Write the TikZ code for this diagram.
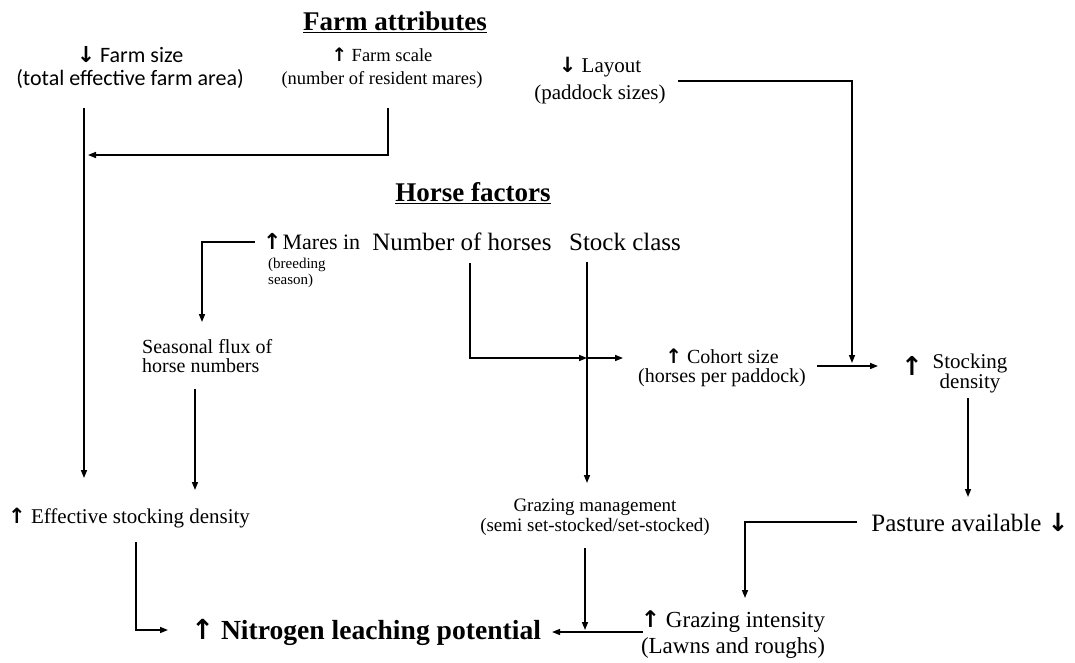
\documentclass[tikz,border=0pt]{standalone}
\usepackage{fontspec}
\setmainfont{Liberation Serif}
\newfontfamily\calfont{Carlito}
\newfontfamily\arrfont{DejaVu Sans}
\usetikzlibrary{arrows.meta}

\newcommand{\up}{{\arrfont\bfseries ↑}}
\newcommand{\dn}{{\arrfont\bfseries ↓}}
\newcommand{\fsz}[2]{\fontsize{#1}{#2}\selectfont}

\tikzset{
  txt/.style={inner sep=0pt, align=center},
  head/.style={inner sep=0pt, font=\fsz{27}{30}\bfseries},
  link/.style={line width=1.5pt, -{Triangle[length=8pt,width=6pt]}},
}

\begin{document}
\begin{tikzpicture}[x=1pt,y=-1pt]
        \useasboundingbox (0,0) rectangle (1075,663);

        % farm attributes
        \node [head] (farmattr) at (395,22) {\underline{Farm attributes}};
        \node [txt, font=\calfont\fsz{22}{23}] (fsize) at (130,68) {\dn\ Farm size\\(total effective farm area)};
        \node [txt, font=\fsz{18.5}{23}] (fscale) at (382,68) {\up\ Farm scale\\(number of resident mares)};
        \node [txt, font=\fsz{21}{27}] (layout) at (600,81) {\dn\ Layout\\(paddock sizes)};

        % horse factors
        \node [head] (horsefac) at (473,193) {\underline{Horse factors}};
        \node [txt, anchor=west, font=\fsz{22}{22}] (mares) at (263,242) {\up\kern1pt Mares in};
        \node [txt, anchor=west, align=left, font=\fsz{15}{16}] (breed) at (268,273) {(breeding\\season)};
        \node [txt, font=\fsz{25}{25}] (nhorses) at (462,242) {Number of horses};
        \node [txt, font=\fsz{25}{25}] (stock) at (625,242) {Stock class};

        \node [txt, anchor=west, align=left, font=\fsz{20}{19}] (flux) at (142,356) {Seasonal flux of\\horse numbers};
        \node [txt, font=\fsz{20}{19.5}] (cohort) at (722,368) {\up\ Cohort size\\(horses per paddock)};
        \node [txt, font=\fsz{26}{26}] (stockup) at (912,366) {\up};
        \node [txt, font=\fsz{21}{20}] (stocking) at (970,373) {Stocking\\density};

        \node [txt, anchor=west, font=\fsz{21}{21}] (esd) at (8,518) {\up\ Effective stocking density};
        \node [txt, font=\fsz{19}{20}] (grazmgmt) at (595,517) {Grazing management\\(semi set-stocked/set-stocked)};
        \node [txt, font=\fsz{25}{25}] (pasture) at (970,523) {Pasture available \dn};
        \node [txt, font=\fsz{23}{26}] (grazint) at (733,635) {\up\ Grazing intensity\\(Lawns and roughs)};
        \node [txt, font=\fsz{27.6}{28}\bfseries] (nitro) at (366,632) {\up\ Nitrogen leaching potential};

        % links
        \draw [link] ([shift={(-46,40)}]fsize.center) -- ([shift={(76,-40)}]esd.west);
        \draw [link] ([shift={(6,40)}]fscale.center) |- ([shift={(-42,87)}]fsize.center);
        \draw [link] ([shift={(78,0)}]layout.center) -| ([shift={(130,-5)}]cohort.center);
        \draw [link] ([shift={(-8,0)}]mares.west) -| ([shift={(60,-34)}]flux.west);
        \draw [link] ([shift={(8,21)}]nhorses.center) |- ([shift={(-38,116)}]stock.center);
        \draw [link] ([shift={(-38,116)}]stock.center) -- ([shift={(-99,-10)}]cohort.center);
        \draw [link] ([shift={(-38,20)}]stock.center) -- ([shift={(-8,-34)}]grazmgmt.center);
        \draw [link] ([shift={(95,-2)}]cohort.center) -- ([shift={(-34,0)}]stockup.center);
        \draw [link] ([shift={(-2,25)}]stocking.center) -- ([shift={(-2,-26)}]pasture.center);
        \draw [link] ([shift={(53,33)}]flux.west) -- ([shift={(187,-28)}]esd.west);
        \draw [link] ([shift={(128,24)}]esd.west) |- ([shift={(-198,-2)}]nitro.center);
        \draw [link] ([shift={(-113,-1)}]pasture.center) -| ([shift={(12,-37)}]grazint.center);
        \draw [link] ([shift={(-10,31)}]grazmgmt.center) -- ([shift={(-10,113)}]grazmgmt.center);
        \draw [link] ([shift={(-90,-3)}]grazint.center) -- ([shift={(186,0)}]nitro.center);

\end{tikzpicture}
\end{document}
